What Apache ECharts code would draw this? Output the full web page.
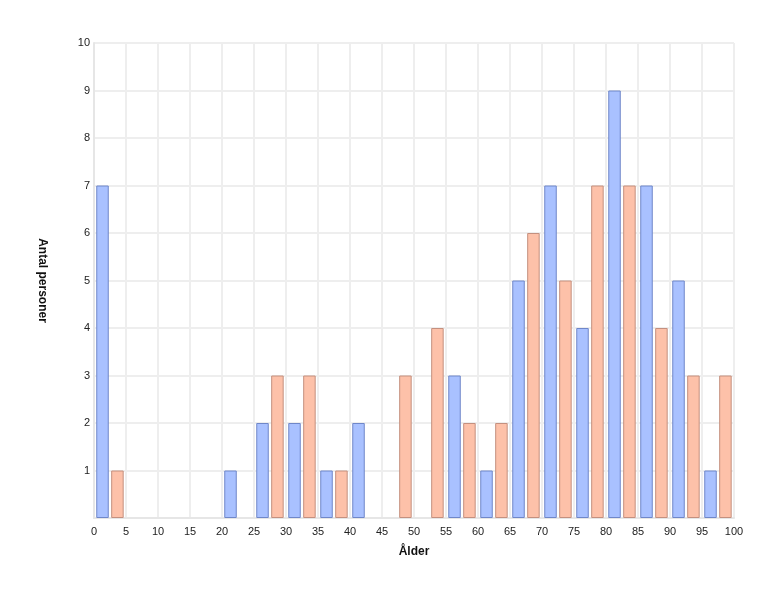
<!DOCTYPE html>
<html lang="sv">
<head>
    <meta charset="UTF-8">
    <title>Ålder</title>
    <script src="https://cdn.jsdelivr.net/npm/echarts@6/dist/echarts.min.js"></script>
    <style>
        html, body {margin: 0; padding: 0; background: #fff}
        #chart {width: 774px; height: 594px}
    </style>
</head>
<body>
<div id="chart"></div>
<script>
    // åldersklasser (start på varje 5-årsintervall)
    const binStarts = [0, 5, 10, 15, 20, 25, 30, 35, 40, 45, 50, 55, 60, 65, 70, 75, 80, 85, 90, 95]
    // antal personer per klass, två grupper
    const blueCounts = [7, 0, 0, 0, 1, 2, 2, 1, 2, 0, 0, 3, 1, 5, 7, 4, 9, 7, 5, 1]
    const salmonCounts = [1, 0, 0, 0, 0, 3, 3, 1, 0, 3, 4, 2, 2, 6, 5, 7, 7, 4, 3, 3]
    const xTicks = [0, 100, 5]   // min, max, interval
    const yTicks = [0, 10, 1]

    // bygg [x, y] par, nollor hoppas över
    function toPoints(counts, shift) {
        let out = []
        counts.forEach((v, i) => {
            if (v > 0) out.push([binStarts[i] + shift, v])
        })
        return out
    }

    let myChart = echarts.init(document.getElementById('chart'))
    let font = 'Liberation Sans, Arial, sans-serif'

    let option = {
        animation: false,
        grid: {
            left: 94,
            right: 40,
            top: 43,
            bottom: 76
        },
        xAxis: {
            type: 'value',
            min: xTicks[0],
            max: xTicks[1],
            interval: xTicks[2],
            name: 'Ålder',
            nameLocation: 'middle',
            nameGap: 28,
            nameTextStyle: {
                fontFamily: font,
                fontWeight: 'bold',
                fontSize: 12,
                color: '#111'
            },
            axisLine: {
                show: true,
                lineStyle: {color: '#e6e6e6', width: 2}
            },
            axisTick: {show: false},
            axisLabel: {
                fontFamily: font,
                fontSize: 11,
                color: '#222',
                margin: 8
            },
            splitLine: {
                show: true,
                lineStyle: {color: '#eeeeee', width: 2}
            }
        },
        yAxis: {
            type: 'value',
            min: yTicks[0],
            max: yTicks[1],
            interval: yTicks[2],
            name: 'Antal personer',
            nameLocation: 'middle',
            nameRotate: -90,
            nameGap: 46,
            nameTextStyle: {
                fontFamily: font,
                fontWeight: 'bold',
                fontSize: 12,
                color: '#111'
            },
            axisLine: {
                show: true,
                lineStyle: {color: '#e6e6e6', width: 2}
            },
            axisTick: {show: false},
            axisLabel: {
                fontFamily: font,
                fontSize: 11,
                color: '#222',
                margin: 4,
                formatter: value => value === 0 ? '' : value
            },
            splitLine: {
                show: true,
                lineStyle: {color: '#eeeeee', width: 2}
            }
        },
        series: [
            {
                name: 'blå',
                type: 'bar',
                data: toPoints(blueCounts, 1.33),
                barWidth: 12.5,
                barGap: '-100%',
                itemStyle: {
                    color: '#a9c1ff',
                    borderColor: '#6f87c9',
                    borderWidth: 1
                }
            },
            {
                name: 'lax',
                type: 'bar',
                data: toPoints(salmonCounts, 3.66),
                barWidth: 12.5,
                barGap: '-100%',
                itemStyle: {
                    color: '#fdc1a9',
                    borderColor: '#c4907f',
                    borderWidth: 1
                }
            }
        ]
    }

    myChart.setOption(option)
</script>
</body>
</html>
